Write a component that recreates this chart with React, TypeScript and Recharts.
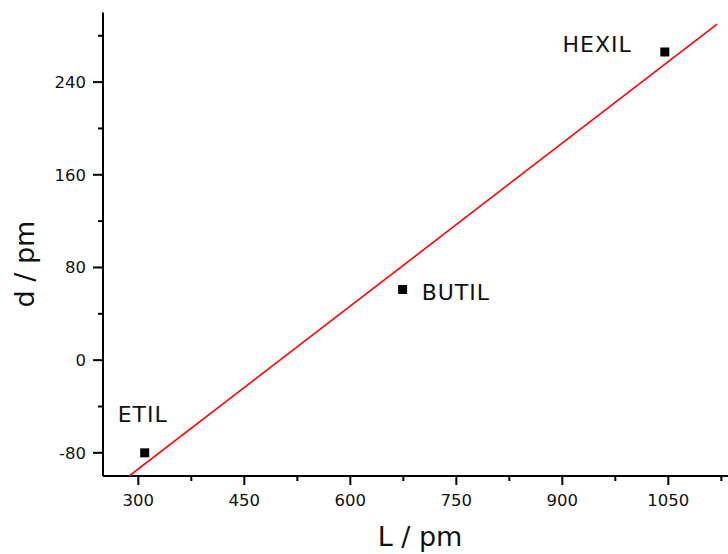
import { ScatterChart, Scatter, XAxis, YAxis, Label } from 'recharts';

// measured samples (L in pm, d in pm)
const names = ['ETIL', 'BUTIL', 'HEXIL'];
const lengthL = [309, 674, 1045];
const spacingD = [-80, 61, 266];

// linear fit drawn as a straight red segment (end points)
const fitL = [287, 1119];
const fitD = [-100, 290];

const xMajor = [300, 450, 600, 750, 900, 1050];
const xMinor = [375, 525, 675, 825, 975, 1125];
const yMajor = [-80, 0, 80, 160, 240];
const yMinor = [-40, 40, 120, 200, 280];

const points = names.map((n, i) => ({ name: n, L: lengthL[i], d: spacingD[i] }));
const fitLine = fitL.map((l, i) => ({ L: l, d: fitD[i] }));

const FONT = '"DejaVu Sans", Verdana, sans-serif';

// where each name sits relative to its marker
const labelPos: Record<string, { dx: number; dy: number; anchor: 'start' | 'end' }> = {
  ETIL: { dx: -27, dy: -31, anchor: 'start' },
  BUTIL: { dx: 19, dy: 11, anchor: 'start' },
  HEXIL: { dx: -33, dy: 0, anchor: 'end' },
};

const SquareWithName = (props: any) => {
  const { cx, cy, payload } = props;
  const p = labelPos[payload.name];
  return (
    <g>
      <rect x={cx - 4.5} y={cy - 4.5} width={9} height={9} fill="#000" />
      <text x={cx + p.dx} y={cy + p.dy} textAnchor={p.anchor} fontSize={22} letterSpacing={1}
        fontFamily={FONT} fill="#111">
        {payload.name}
      </text>
    </g>
  );
};

const XTick = (props: any) => {
  const { x, y, payload } = props;
  const major = xMajor.includes(payload.value);
  return (
    <g>
      <line x1={x} y1={y} x2={x} y2={y + (major ? 9 : 5)} stroke="#000" strokeWidth={2} />
      {major && (
        <text x={x} y={y + 30} textAnchor="middle" fontSize={16.5} fontFamily={FONT} fill="#111">
          {payload.value}
        </text>
      )}
    </g>
  );
};

const TopTick = (props: any) => {
  const { x, y } = props;
  return <line x1={x} y1={y} x2={x} y2={y + 2.5} stroke="#000" strokeWidth={1.5} />;
};

const YTick = (props: any) => {
  const { x, y, payload } = props;
  const major = yMajor.includes(payload.value);
  return (
    <g>
      <line x1={x - (major ? 10 : 5)} y1={y} x2={x} y2={y} stroke="#000" strokeWidth={2} />
      {major && (
        <text x={x - 17} y={y} dy="0.35em" textAnchor="end" fontSize={16.5} fontFamily={FONT} fill="#111">
          {payload.value}
        </text>
      )}
    </g>
  );
};

export default function App() {
  return (
    <div style={{ width: 728, height: 554, overflow: 'hidden', background: '#fff' }}>
      <style>{'body{margin:0}'}</style>
      <ScatterChart width={760} height={554} margin={{ top: 12.6, right: 21, bottom: 0, left: 0 }}>
        <XAxis
          type="number" dataKey="L" domain={[250, 1150]} allowDataOverflow
          ticks={[...xMajor, ...xMinor].sort((a, b) => a - b)} interval={0}
          tickSize={0} tickMargin={0} tickLine={false} tick={<XTick />}
          axisLine={{ stroke: '#000', strokeWidth: 2 }} height={78}
        >
          <Label
            content={() => (
              <text x={420} y={546} textAnchor="middle" fontSize={27} fontFamily={FONT} fill="#111">
                L / pm
              </text>
            )}
          />
        </XAxis>
        <XAxis
          xAxisId="top" orientation="top" type="number" dataKey="L" domain={[250, 1150]} allowDataOverflow
          ticks={[...xMajor, ...xMinor].sort((a, b) => a - b)} interval={0}
          tickSize={0} tickMargin={0} tickLine={false} tick={<TopTick />}
          axisLine={{ stroke: '#000', strokeWidth: 2 }} height={0}
        />
        <YAxis
          type="number" dataKey="d" domain={[-100, 300]} allowDataOverflow
          ticks={[...yMajor, ...yMinor].sort((a, b) => a - b)} interval={0}
          tickSize={0} tickMargin={0} tickLine={false} tick={<YTick />}
          axisLine={{ stroke: '#000', strokeWidth: 2 }} width={103}
        >
          <Label
            content={() => (
              <text x={34} y={264} transform="rotate(-90 34 264)" textAnchor="middle" fontSize={27}
                fontFamily={FONT} fill="#111">
                d / pm
              </text>
            )}
          />
        </YAxis>
        <Scatter
          data={fitLine} line={{ stroke: '#ff0000', strokeWidth: 1.6 }} shape={() => <g />}
          isAnimationActive={false} legendType="none"
        />
        <Scatter data={points} shape={<SquareWithName />} isAnimationActive={false} />
      </ScatterChart>
    </div>
  );
}
